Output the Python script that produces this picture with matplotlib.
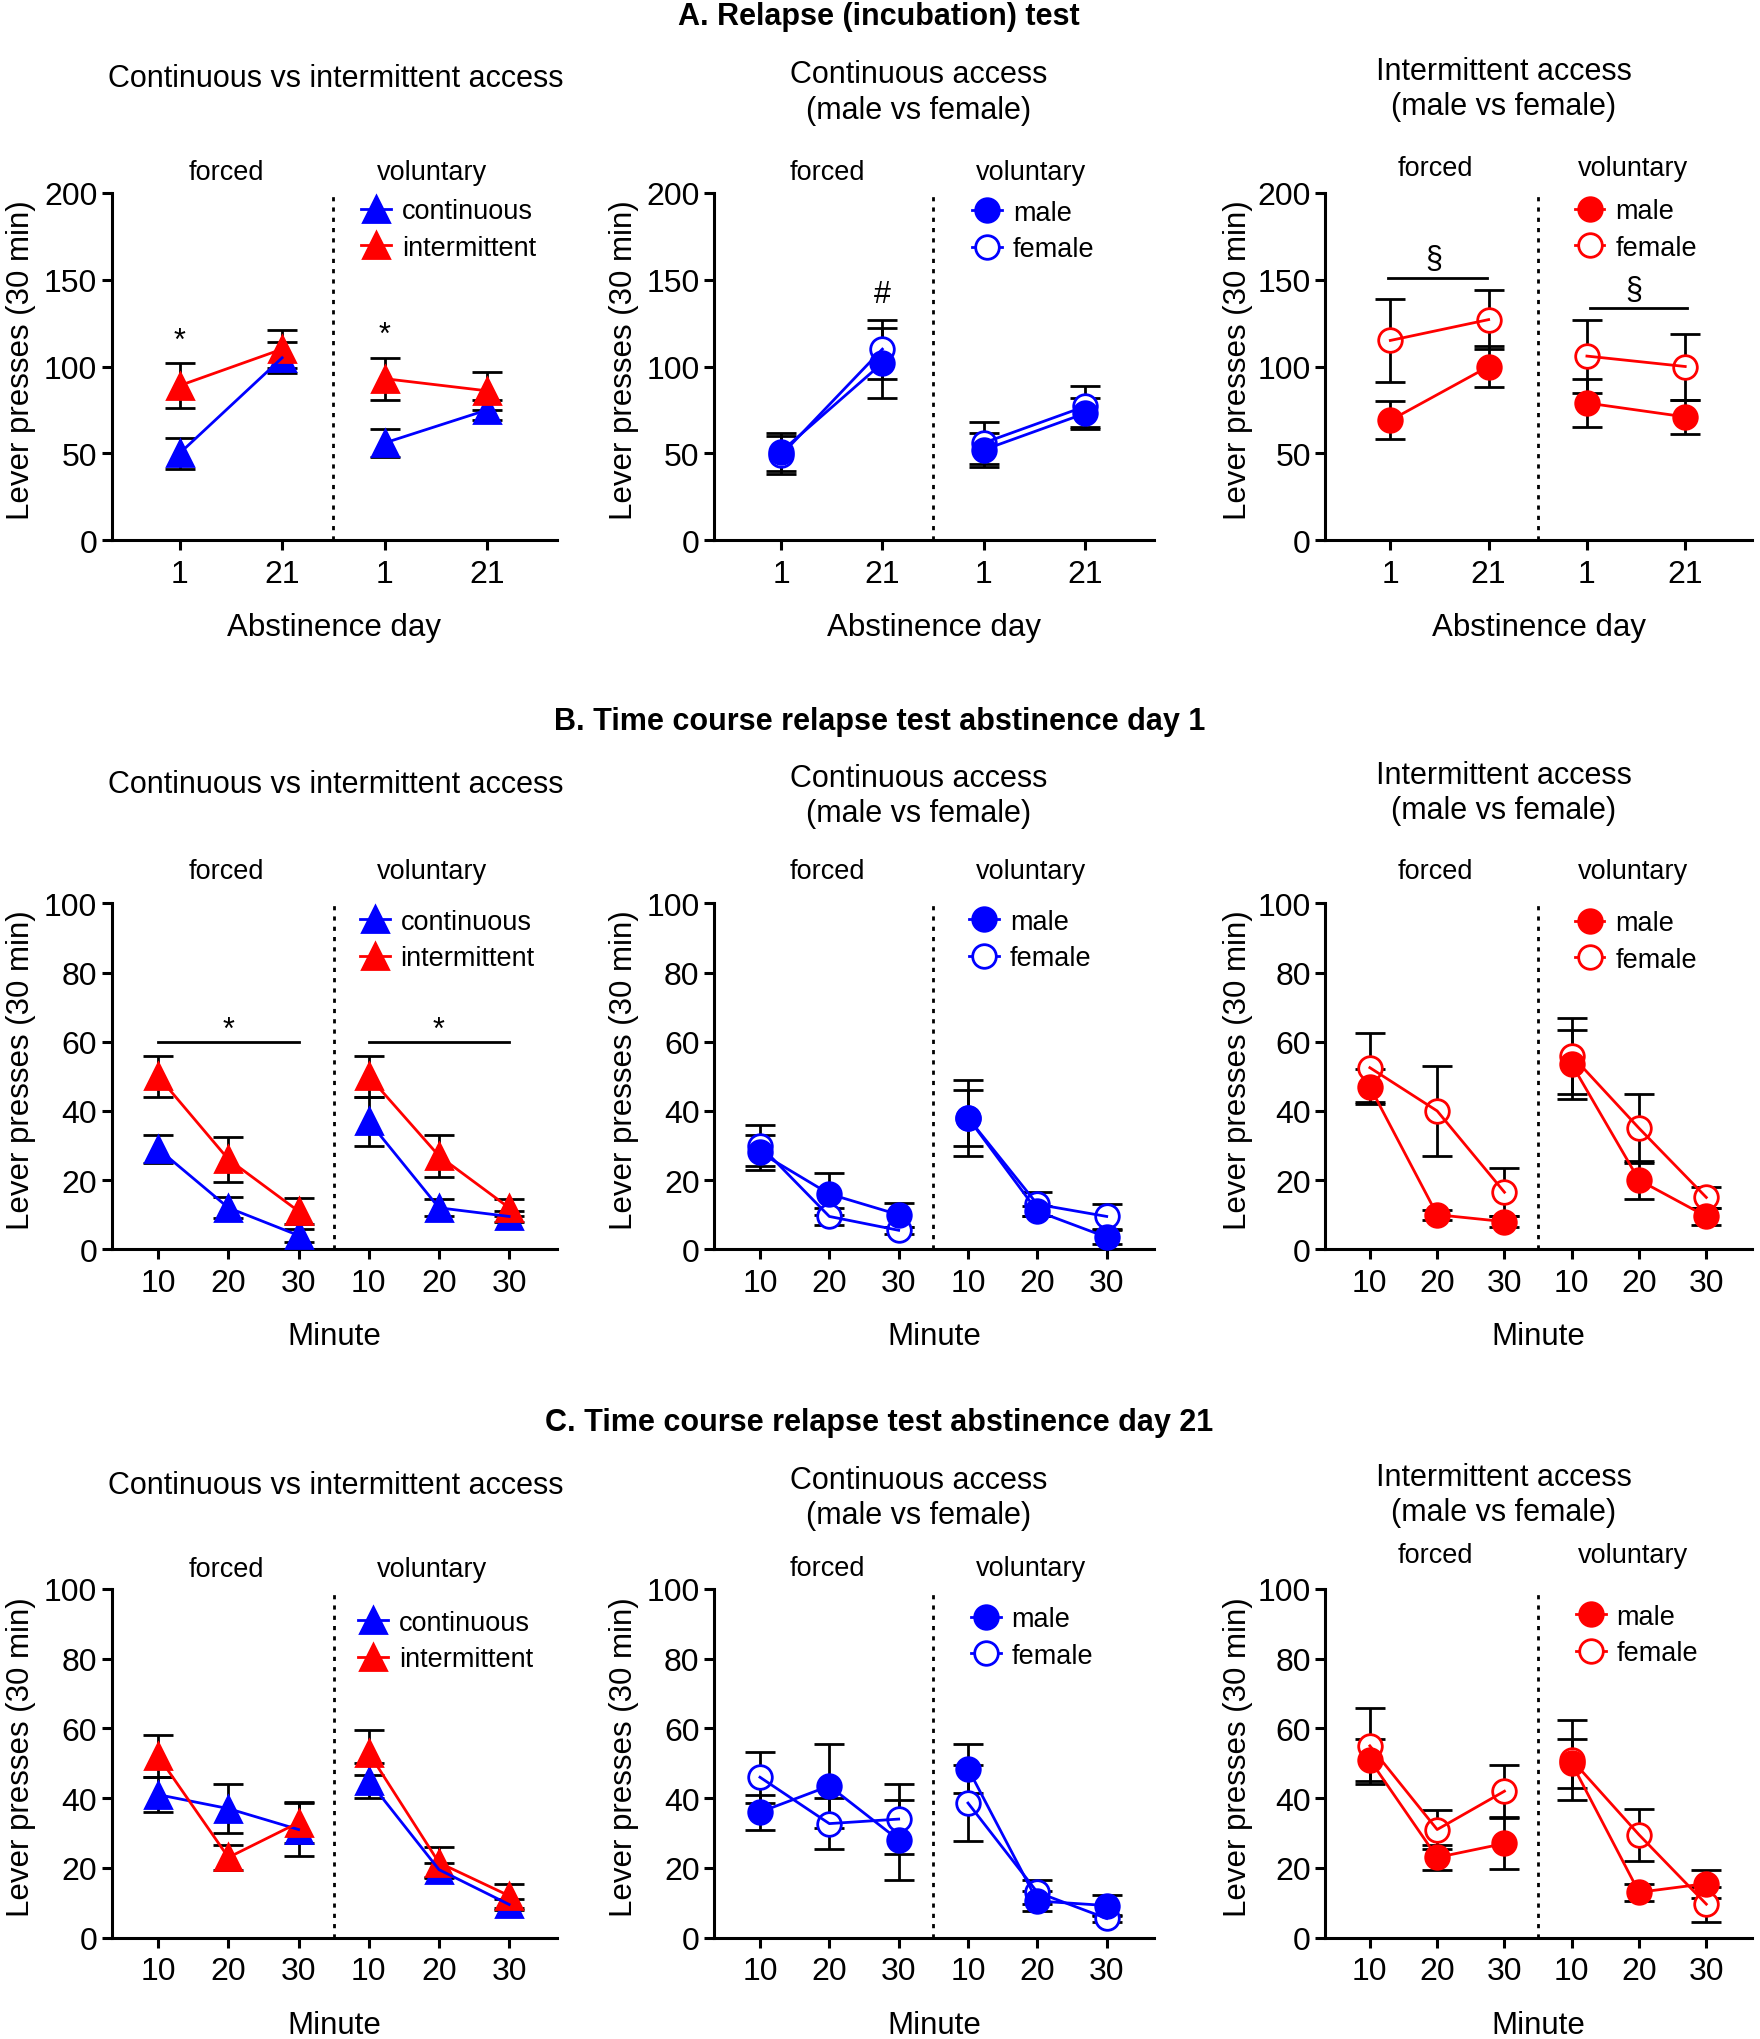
import matplotlib.pyplot as plt
from matplotlib.lines import Line2D
import numpy as np

plt.rcParams['font.family'] = ['Liberation Sans', 'DejaVu Sans']

BLUE = '#0000ff'
RED = '#ff0000'

# x categories (forced | voluntary)
day_labels = ['1', '21', '1', '21']
minute_labels = ['10', '20', '30', '10', '20', '30']

# A. relapse test, lever presses per abstinence day (mean, sem)
a1_cont = [50, 105, 56, 75]
a1_cont_err = [9, 9, 8, 6]
a1_int = [89, 110, 93, 86]
a1_int_err = [13, 11, 12, 11]

a2_male = [51, 102, 52, 73]
a2_male_err = [11, 20, 10, 9]
a2_female = [49, 110, 56, 77]
a2_female_err = [11, 17, 12, 12]

a3_male = [69, 100, 79, 71]
a3_male_err = [11, 12, 14, 10]
a3_female = [115, 127, 106, 100]
a3_female_err = [24, 17, 21, 19]

# B. time course, abstinence day 1
b1_cont = [29, 12, 4, 37, 12, 9.5]
b1_cont_err = [4, 3, 2, 7, 2.5, 1.5]
b1_int = [50, 26, 11, 50, 27, 12]
b1_int_err = [6, 6.5, 3.7, 6, 6, 2.5]

b2_male = [28, 16, 10, 38, 11, 3.5]
b2_male_err = [5, 6, 3.5, 11, 1.5, 2]
b2_female = [30, 9.5, 5.5, 38, 13, 9.5]
b2_female_err = [6, 2.5, 1, 8, 3.5, 3.7]

b3_male = [47, 10, 8, 53.5, 20, 9.5]
b3_male_err = [5, 1.5, 1.5, 10, 5.5, 2.5]
b3_female = [52.5, 40, 16.5, 56, 35, 15]
b3_female_err = [10, 13, 7, 11, 10, 3]

# C. time course, abstinence day 21
c1_cont = [41, 37, 31, 45, 19.5, 9.5]
c1_cont_err = [5, 7, 7.5, 5, 2, 1.5]
c1_int = [52, 23, 33, 53, 21.5, 12]
c1_int_err = [6, 3.5, 6, 6.5, 4.4, 3.5]

c2_male = [36, 43.5, 28, 48.5, 10.5, 9.2]
c2_male_err = [5, 12, 11.5, 7, 3, 3]
c2_female = [46, 32.7, 34, 38.6, 13, 5.5]
c2_female_err = [7.3, 7.3, 10, 11, 3.4, 1]

c3_male = [51, 23, 27, 50, 13, 15.5]
c3_male_err = [6, 3.5, 7.3, 7, 2.5, 4]
c3_female = [55, 31, 42, 51, 29.5, 9.6]
c3_female_err = [11, 5.5, 7.5, 11.4, 7.5, 5]

fig = plt.figure(figsize=(17.6, 20.4), dpi=100)

col_left = [0.0636, 0.4058, 0.7531]
col_width = [0.2528, 0.2498, 0.2424]
row_bottom = [0.7347, 0.3871, 0.0497]
row_height = [0.1703, 0.1696, 0.1709]

LEG = dict(loc='upper left', frameon=False, fontsize=19.5, handlelength=1.1,
           handletextpad=0.4, labelspacing=0.39, borderpad=0, borderaxespad=0)


def panel(r, c, ticklabels, series, ymax, ystep, xlabel, leg_xy, fv_y, leg_order=(0, 1)):
    ax = fig.add_axes([col_left[c], row_bottom[r], col_width[c], row_height[r]])
    n = len(ticklabels)
    x = np.arange(n)
    half = n // 2
    handles = []
    for lab, vals, errs, color, marker, filled in series:
        vals = np.asarray(vals, float)
        errs = np.asarray(errs, float)
        ms = 19 if marker == '^' else 17
        fc = color if filled else 'white'
        ax.errorbar(x, vals, yerr=errs, fmt='none', ecolor='black', elinewidth=2,
                    capsize=10.5, capthick=2, zorder=2, clip_on=False)
        for seg in (slice(0, half), slice(half, n)):
            ax.plot(x[seg], vals[seg], ls='none', marker=marker, ms=ms, mfc=fc,
                    mec=color, mew=2, zorder=4, clip_on=False)
            ax.plot(x[seg], vals[seg], color=color, lw=2, zorder=5, clip_on=False)
        handles.append(Line2D([], [], color=color, lw=2, marker=marker, ms=ms,
                              mfc=fc, mec=color, mew=2, label=lab))
    ax.axvline(half - 0.5, color='black', lw=2, ls=(0, (1.5, 2.2)), zorder=1)
    ax.set_xlim(-0.66, n - 1 + 0.68)
    ax.set_ylim(0, ymax)
    ax.set_xticks(x)
    ax.set_xticklabels(ticklabels)
    ax.set_yticks(np.arange(0, ymax + 1, ystep))
    for s in ('top', 'right'):
        ax.spines[s].set_visible(False)
    for s in ('left', 'bottom'):
        ax.spines[s].set_linewidth(2.2)
    ax.tick_params(labelsize=23, width=2.2, length=7.5)
    ax.tick_params(axis='x', pad=6)
    ax.tick_params(axis='y', pad=3)
    ax.set_ylabel('Lever presses (30 min)', fontsize=22.5, va='center')
    ax.yaxis.set_label_coords(-0.205, 0.52)
    ax.set_xlabel(xlabel, fontsize=22.5, va='center')
    ax.xaxis.set_label_coords(0.5, -0.25)
    ax.legend(handles=[handles[i] for i in leg_order], bbox_to_anchor=leg_xy, **LEG)
    ax.text(0.257, fv_y, 'forced', transform=ax.transAxes, ha='center', va='center', fontsize=19.5)
    ax.text(0.72, fv_y, 'voluntary', transform=ax.transAxes, ha='center', va='center', fontsize=19.5)
    return ax


def bracket(ax, x0, x1, y, sym, sx, sy):
    ax.plot([x0, x1], [y, y], color='black', lw=2)
    ax.text(sx, sy, sym, ha='center', va='center', fontsize=22)


# ---- row A ----
ax = panel(0, 0, day_labels,
           [('continuous', a1_cont, a1_cont_err, BLUE, '^', True),
            ('intermittent', a1_int, a1_int_err, RED, '^', True)],
           200, 50, 'Abstinence day', (0.56, 0.985), 1.06)
ax.text(0, 115, '*', ha='center', va='center', fontsize=22)
ax.text(2, 118, '*', ha='center', va='center', fontsize=22)

ax = panel(0, 1, day_labels,
           [('female', a2_female, a2_female_err, BLUE, 'o', False),
            ('male', a2_male, a2_male_err, BLUE, 'o', True)],
           200, 50, 'Abstinence day', (0.587, 0.98), 1.06, leg_order=(1, 0))
ax.text(1, 142, '#', ha='center', va='center', fontsize=22)

ax = panel(0, 2, day_labels,
           [('female', a3_female, a3_female_err, RED, 'o', False),
            ('male', a3_male, a3_male_err, RED, 'o', True)],
           200, 50, 'Abstinence day', (0.584, 0.985), 1.07, leg_order=(1, 0))
bracket(ax, -0.02, 0.98, 151, '§', 0.44, 162)
bracket(ax, 2.03, 3.02, 133.5, '§', 2.48, 144)

# ---- row B ----
ax = panel(1, 0, minute_labels,
           [('continuous', b1_cont, b1_cont_err, BLUE, '^', True),
            ('intermittent', b1_int, b1_int_err, RED, '^', True)],
           100, 20, 'Minute', (0.557, 0.985), 1.094)
bracket(ax, 0, 2, 60, '*', 1, 63.5)
bracket(ax, 3, 5, 60, '*', 4, 63.5)

ax = panel(1, 1, minute_labels,
           [('female', b2_female, b2_female_err, BLUE, 'o', False),
            ('male', b2_male, b2_male_err, BLUE, 'o', True)],
           100, 20, 'Minute', (0.58, 0.985), 1.094, leg_order=(1, 0))

ax = panel(1, 2, minute_labels,
           [('female', b3_female, b3_female_err, RED, 'o', False),
            ('male', b3_male, b3_male_err, RED, 'o', True)],
           100, 20, 'Minute', (0.584, 0.98), 1.094, leg_order=(1, 0))

# ---- row C ----
ax = panel(2, 0, minute_labels,
           [('continuous', c1_cont, c1_cont_err, BLUE, '^', True),
            ('intermittent', c1_int, c1_int_err, RED, '^', True)],
           100, 20, 'Minute', (0.554, 0.94), 1.056)

ax = panel(2, 1, minute_labels,
           [('female', c2_female, c2_female_err, BLUE, 'o', False),
            ('male', c2_male, c2_male_err, BLUE, 'o', True)],
           100, 20, 'Minute', (0.584, 0.95), 1.06, leg_order=(1, 0))

ax = panel(2, 2, minute_labels,
           [('female', c3_female, c3_female_err, RED, 'o', False),
            ('male', c3_male, c3_male_err, RED, 'o', True)],
           100, 20, 'Minute', (0.587, 0.958), 1.097, leg_order=(1, 0))

# ---- titles ----
for txt, y in [('A. Relapse (incubation) test', 0.9917),
               ('B. Time course relapse test abstinence day 1', 0.646),
               ('C. Time course relapse test abstinence day 21', 0.3023)]:
    fig.text(0.4996, y, txt, ha='center', va='center', fontsize=22, weight='bold')

panel_titles = ['Continuous vs intermittent access',
                'Continuous access\n(male vs female)',
                'Intermittent access\n(male vs female)']
title_x = [0.1907, 0.5218, 0.8544]
title_y = [[0.9611, 0.9544, 0.9560],
           [0.6154, 0.6094, 0.6110],
           [0.2717, 0.2656, 0.2669]]
for r in range(3):
    for c in range(3):
        fig.text(title_x[c], title_y[r][c], panel_titles[c], ha='center', va='center',
                 fontsize=22, linespacing=1.23)

fig.savefig('out.png', dpi=100)
